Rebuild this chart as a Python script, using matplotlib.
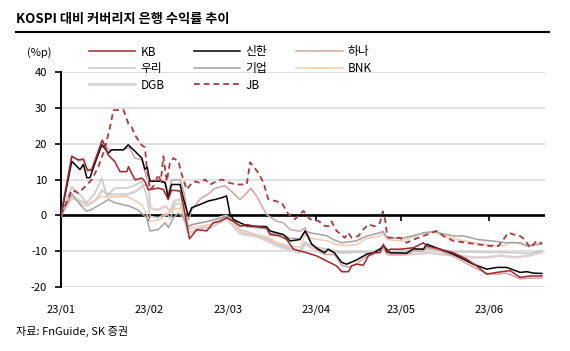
import numpy as np
import matplotlib
matplotlib.use("Agg")
import matplotlib.pyplot as plt
import matplotlib.dates as mdates
from matplotlib.lines import Line2D

plt.rcParams['font.family'] = ['Noto Sans CJK KR', 'DejaVu Sans']

# ---- data: day offsets from 2023-01-01 and %p excess return vs KOSPI ----
KB_days = [0, 3.8, 6.1, 7.9, 9.3, 10.8, 14.6, 16.7, 19, 20.8, 23.2, 23.8, 24.9, 26.1, 28.5, 29.6, 30.8, 34.3, 36.1,
           37.8, 39, 42, 43.2, 45.3, 47.9, 51.4, 53.7, 56.1, 58.4, 60.8, 63.1, 65.5, 69, 72.5, 73.7, 77.2, 79.6, 82,
           84.3, 86.7, 90.2, 93.7, 97.2, 99, 101.4, 102.5, 104.3, 106.6, 108.4, 110.2, 112.5, 113.7, 114.9, 116,
           119.6, 124.3, 127.8, 129, 133.7, 138.4, 143.1, 146.6, 150.2, 153.7, 158.4, 161.9, 165.4, 169.6]
KB_vals = [0, 16.4, 15.5, 15.6, 12.7, 12.7, 21, 16.8, 15, 12.2, 12.2, 13.6, 11.8, 9.9, 10.4, 9.4, 7.1, 7.6, 7.2,
           4.4, 7.0, 6.8, 2.6, -6.6, -4, -4.4, -2.1, -1.7, -0.7, -1.7, -3, -2.6, -3.2, -3.5, -5.4, -5.8, -6.8, -9.5,
           -10, -10.5, -11.4, -12.8, -14.2, -15.8, -15.8, -14.2, -13.7, -14, -11.4, -10.5, -10.5, -8.1, -10.5, -9.5,
           -9.5, -9.1, -7.7, -8.6, -9.5, -10.5, -12.3, -14.2, -16.5, -16, -15.5, -17.4, -17, -17]

SH_days = [0, 3.8, 6.7, 7.9, 9.1, 10.2, 12, 14.4, 16.7, 17.9, 22, 23.7, 26.1, 28.5, 29.6, 30.4, 31.4, 34.9, 36.7,
           37.8, 39, 42, 43.1, 44.9, 46.1, 49, 52, 54.3, 56.7, 58.4, 59.6, 60.8, 63.1, 65.5, 69, 72.5, 73.7, 78.4,
           80.8, 84.3, 86.1, 88.4, 90.7, 93, 94.2, 96.4, 99, 100.8, 104.3, 107.8, 110.2, 112.5, 113.7, 114.9, 116,
           121.9, 124.3, 127.8, 129, 130.7, 133.7, 138.4, 141.9, 145.4, 150.2, 153.7, 157.2, 161.9, 164.3, 166.6, 169.6]
SH_vals = [0, 15.1, 12.8, 14.2, 10.5, 10.5, 14.6, 19.7, 17.4, 18.3, 18.3, 19.7, 17.9, 16, 12.8, 13.5, 9.5, 9.5, 9.1,
           4.9, 8.6, 8.6, 4.9, -0.2, 2.1, 3, 4, 4.4, 4.9, 5.4, 0.3, -1.2, -2.1, -2.9, -3.1, -3.2, -4.4, -5.4,
           -7.2, -6.8, -4.4, -8.1, -9.5, -10.5, -9.5, -10.5, -13.2, -13.7, -12.5, -10.9, -10.5, -9.5, -8.6, -9.5, -10.5,
           -10.6, -9.4, -9.5, -8.1, -8.6, -9.5, -10.9, -12.3, -13.7, -15.1, -14.6, -14.6, -16, -15.8, -16.2, -16.3]

HN_days = [0, 3.8, 6.1, 7.9, 9.3, 10.8, 14.4, 16.7, 22, 24, 26.1, 28.5, 30.2, 31.4, 34.3, 36.7, 37.9, 39, 42, 43.5,
           44.9, 46.1, 49, 52, 54.3, 57.8, 60.8, 63.1, 65.5, 66.9, 69, 72.5, 76.1, 78.4, 80.8, 84.3, 86.1, 88.4,
           90.7, 93, 96.4, 99, 101.4, 104.3, 107.8, 110.2, 113.7, 116, 121.9, 124.3, 127.8, 129, 133.7, 138.4,
           143.1, 146.6, 150.2, 153.7, 157.2, 161.9, 165.4, 169.6]
HN_vals = [0, 16.8, 15.2, 16, 12.3, 12.5, 21, 18.3, 18.3, 19, 16, 15.5, 10.5, 9.5, 9.8, 9.5, 6, 9.8, 10, 6,
           -1.5, 1.5, 4.5, 6, 7.5, 8.3, 6.2, 4.4, 6.2, 7.6, 5.3, 0.2, -1.7, -2.1, -4, -4.5, -3.5, -8,
           -10, -11, -11, -14, -14.5, -13.5, -11.5, -11, -9, -11, -11, -10, -10, -9, -10, -11.5,
           -13.5, -15, -16.3, -16.5, -16.2, -17.8, -17.6, -17.6]

WR_days = [0, 3.8, 7.3, 9, 12, 14.4, 16.1, 19, 23.2, 25.5, 28.5, 30, 31.4, 34.3, 37.3, 38.5, 40.2, 42, 44.3, 46.5,
           50, 53, 56, 58.4, 60.8, 63.1, 65.5, 69, 72.5, 76, 80, 84.3, 86, 88.4, 92, 96, 99, 105, 110, 113.5, 115,
           120, 125, 130, 135, 140, 145, 150, 155, 160, 165, 169.6]
WR_vals = [0, 8, 5.3, 3.4, 6.2, 10.4, 5.3, 7.6, 7.6, 8.2, 9.4, 6, -0.3, -0.7, 0.6, -1, 3, 3.4, -4, -2.5,
           -2, -1.5, -0.5, 0, -2, -4, -4.5, -5.5, -6.5, -8, -9, -10, -7.5, -8.5, -9.2, -9.8, -10.3, -10.2, -10.4, -9, -10.2,
           -10, -9.7, -9.5, -9.9, -10.3, -10.3, -10.4, -10.4, -10.5, -10.7, -9.9]

IBK_days = [0, 3.8, 7.3, 9, 10.5, 13.8, 16.7, 19, 24.3, 27, 30.2, 31.4, 34.3, 36.7, 37.9, 39.6, 41.4, 43, 44.9, 47,
            50, 53, 56, 58.4, 60.8, 63.1, 65.5, 69, 72.5, 73.7, 78.4, 80.8, 84.3, 86.1, 88.4, 90.7, 94, 96, 99, 104,
            108, 112.5, 113.5, 115, 119.6, 124, 128, 132, 133.7, 138.4, 142, 147, 152, 157, 161.9, 164.3, 169.6]
IBK_vals = [0, 6, 2.5, 1.1, 1.5, 3, 4.4, 3.5, 2.5, 1.5, -0.7, -4.4, -4, -2.1, -3.5, -0.7, 0.6, -0.5, -3, -2.5,
            -2, -1.5, -1, -0.3, -1.5, -3, -3.2, -3.5, -3.8, -5, -5.5, -6.5, -6.5, -4.4, -5, -5.3, -5.8, -6.8, -7.7, -7.2,
            -5.8, -4.9, -4.5, -6.2, -6.5, -5.8, -4.9, -4.5, -5, -5.8, -5.8, -6.8, -7.2, -7.7, -7.7, -8.5, -8.1]

BNK_days = [0, 3.8, 7.3, 9.3, 12.6, 14.4, 17, 23.2, 25.5, 28.5, 30.8, 31.4, 34.9, 37.3, 39, 42.6, 44.9, 47, 50, 53,
            56, 58.4, 60.8, 63.1, 65.5, 69, 72.5, 76, 80, 84.3, 86.1, 88.4, 91, 94, 97, 101, 104.3, 107.8, 112.5,
            113.5, 115, 120, 125, 128, 132, 135, 140, 146, 151, 156, 159, 162, 165, 169.6]
BNK_vals = [0, 5.3, 3, 2.5, 4.4, 5.3, 5, 5.3, 4.4, 3, -0.7, -1.7, -1.2, 0.2, 1.6, 2, -4, -3.5, -3, -2.5,
            -1.5, -1, -2, -4.5, -5, -5.5, -6, -7.5, -8.5, -9, -5.5, -6.5, -6.8, -7.2, -8.2, -8.5, -8.2, -6.5, -5.8,
            -5, -6.8, -7.2, -5.8, -5, -4.8, -5.8, -6.8, -7.8, -8.3, -8.6, -7.5, -8, -8.8, -7.7]

DGB_days = [0, 3.8, 7, 9.5, 12.6, 14.4, 17, 23, 26, 28.5, 30.8, 31.5, 34, 37, 38.5, 40, 42.6, 44.9, 47, 50,
            53, 56, 58.4, 60.8, 63.1, 65.5, 69, 72.5, 76, 80, 84.3, 86, 88, 92, 96, 99, 105, 110, 113.5, 115,
            120, 126, 130, 135, 140, 145, 150, 155, 160, 165, 169.6]
DGB_vals = [0, 4.8, 4, 3, 4.5, 7, 5.8, 5.8, 6.5, 8, 9, 2, 1.5, 2.5, 1, 4, 4.5, -5, -4.5, -3.5,
            -3.5, -2, -1, -3, -5, -5.5, -6, -7, -8.5, -9.5, -10.5, -8, -9, -9.8, -10.2, -10.5, -10.2, -10.5, -9, -11,
            -11, -10.8, -10.5, -11, -11.3, -11.8, -11.8, -11.3, -11.8, -11.3, -10.3]

JB_days = [0, 3.8, 6.1, 8.5, 10.8, 13.2, 15.5, 17.3, 18.5, 22, 23.8, 24.9, 26.1, 28.5, 29.6, 30.2, 31.4, 33,
           34.3, 35.2, 36.1, 37.3, 38.4, 39.6, 41.4, 42.6, 44.3, 46.7, 49, 50.8, 52.6, 54.9, 56.7, 59.6, 62, 65.5,
           66.7, 69.6, 71.4, 73.1, 75.5, 77.8, 80.2, 82.5, 85.5, 87.8, 90.8, 93.1, 94.2, 95.4, 97.2, 100.1, 101.3,
           102.5, 104.9, 106.6, 108.4, 110.7, 112.5, 113.5, 114.3, 114.9, 115.5, 119.6, 121.9, 124.3, 127.8, 132.5,
           134.9, 138.4, 143.1, 146.6, 151.3, 154.3, 157.8, 159.6, 161.9, 163.6, 165.4, 167.8, 169.6]
JB_vals = [0, 7.1, 6.2, 8, 9.9, 13.6, 18.7, 24.7, 29.4, 29.5, 25.6, 24.7, 22.4, 19.6, 19, 13.6, 7.1, 8.5,
           11.4, 9.5, 16.5, 9.5, 14.6, 16, 15.1, 11.4, 7.2, 9.5, 9.1, 10, 8.6, 9.5, 10, 9, 8.6, 8.6,
           14.8, 11.9, 9.1, 4.5, 4, 3.5, 0.3, -1.1, 1.2, -1.1, -1.6, -3, -3.1, -1.7, -4.4, -6.3, -4.9,
           -6.3, -5.8, -4, -2.6, -3.1, -2.1, 1.1, -1.2, -4.9, -6.3, -6.3, -7.7, -6.8, -5.8, -4.4,
           -5.8, -7.2, -7.7, -8.1, -8.6, -8.6, -4.9, -5.4, -5.8, -6.8, -9.1, -7.2, -7.9]

month_ticks = ['2023-01-01', '2023-02-01', '2023-03-01', '2023-04-01', '2023-05-01', '2023-06-01']
month_labels = ['23/01', '23/02', '23/03', '23/04', '23/05', '23/06']
y_ticks = [-20, -10, 0, 10, 20, 30, 40]

base = mdates.date2num(np.datetime64('2023-01-01'))

def dx(days):
    return base + np.asarray(days, dtype=float)

W, H = 570, 351
fig = plt.figure(figsize=(W / 100, H / 100), dpi=100)
ax = fig.add_axes([61 / W, 1 - 286.7 / H, 484 / W, 214.4 / H])

series = [
    ('DGB', DGB_days, DGB_vals, dict(color='#dcd2d2', lw=1.9)),
    ('우리', WR_days, WR_vals, dict(color='#c9c9c9', lw=1.1)),
    ('BNK', BNK_days, BNK_vals, dict(color='#f3cba9', lw=1.1)),
    ('기업', IBK_days, IBK_vals, dict(color='#a3a3a3', lw=1.1)),
    ('하나', HN_days, HN_vals, dict(color='#cfa4a4', lw=1.1)),
    ('신한', SH_days, SH_vals, dict(color='#000000', lw=1.1)),
    ('KB', KB_days, KB_vals, dict(color='#a0262a', lw=1.1)),
    ('JB', JB_days, JB_vals, dict(color='#a83a3e', lw=1.3, ls=(0, (3.2, 2.2)))),
]
handles = {}
for name, d, v, st in series:
    h, = ax.plot(dx(d), v, zorder=3, **st)
    handles[name] = h

ax.axhline(0, color='black', lw=1.9, zorder=2)

ax.set_xlim(base + 0, base + 170.7)
ax.set_ylim(-20, 40)
ax.set_yticks(y_ticks)
ax.set_yticklabels([str(t) for t in y_ticks])
ax.yaxis.grid(True, color='#dadada', lw=1.2)
ax.set_axisbelow(True)
for s in ['top', 'right', 'bottom']:
    ax.spines[s].set_visible(False)
ax.spines['left'].set_linewidth(1.4)
ax.tick_params(axis='y', direction='out', length=4, width=1.2, pad=6, labelsize=8)

tick_pos = [mdates.date2num(np.datetime64(t)) for t in month_ticks]
ax.set_xticks(tick_pos)
ax.set_xticklabels(month_labels)
ax.tick_params(axis='x', length=0, pad=13, labelsize=8)

sec = ax.secondary_xaxis(20 / 60)
sec.set_xticks(tick_pos)
sec.set_xticklabels([])
sec.spines['bottom'].set_visible(False)
sec.tick_params(direction='out', length=4, width=1.2)

order = ['KB', '우리', 'DGB', '신한', '기업', 'JB', '하나', 'BNK']
fig.legend([handles[k] for k in order], order, loc='upper left',
           bbox_to_anchor=(89 / W, 1 - 45.5 / H), ncol=3, frameon=False, fontsize=8.5,
           handlelength=3.9, handletextpad=0.45, columnspacing=2.5, labelspacing=0.3,
           borderpad=0, borderaxespad=0)

fig.text(16 / W, 1 - 19 / H, 'KOSPI 대비 커버리지 은행 수익률 추이', fontsize=9.5,
         fontweight='bold', va='center', ha='left')
fig.add_artist(Line2D([16 / W, 549 / W], [1 - 31.7 / H] * 2, color='black', lw=1.5))
fig.text(27 / W, 1 - 53 / H, '(%p)', fontsize=8, va='center', ha='left')
fig.text(16 / W, 1 - 331.7 / H, '자료: FnGuide, SK 증권', fontsize=8, va='center', ha='left')

fig.savefig('out.png', dpi=100)
